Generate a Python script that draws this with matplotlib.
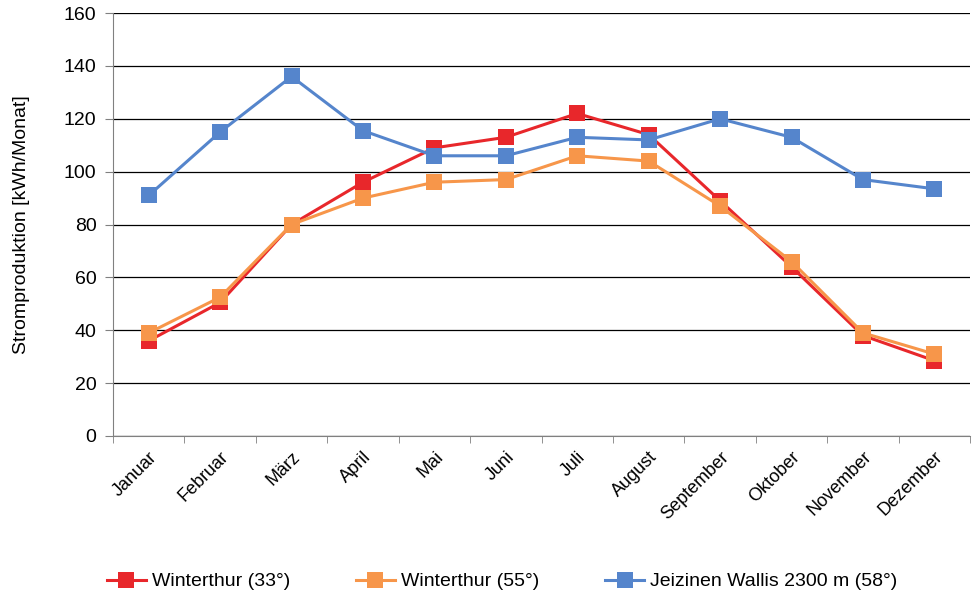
import matplotlib
matplotlib.use('Agg')
from matplotlib import pyplot as plt
import numpy as np

plt.rcParams['font.family'] = ['Liberation Sans', 'DejaVu Sans']

months = ['Januar', 'Februar', 'März', 'April', 'Mai', 'Juni', 'Juli',
          'August', 'September', 'Oktober', 'November', 'Dezember']
winterthur33 = [36, 50.5, 80, 96, 109, 113, 122, 114, 89, 64, 38, 28.5]
winterthur55 = [39, 52.5, 80, 90, 96, 97, 106, 104, 87, 66, 39, 31]
jeizinen58 = [91, 115, 136, 115.5, 106, 106, 113, 112, 120, 113, 97, 93.5]
labels = ['Winterthur (33°)', 'Winterthur (55°)', 'Jeizinen Wallis 2300 m (58°)']
colors = ['#e8272b', '#f7964a', '#5585cc']

fig = plt.figure(figsize=(9.72, 5.93), dpi=100)
ax = fig.add_axes([0.1163, 0.2648, 0.8817, 0.7132])

x = np.arange(len(months))
for series, lab, col in zip([winterthur33, winterthur55, jeizinen58], labels, colors):
    ax.plot(x, series, color=col, lw=2.2, marker='s', markersize=11,
            markeredgewidth=0, label=lab)

ax.set_ylim(0, 160)
ax.set_yticks(np.arange(0, 161, 20))
ax.set_xlim(-0.5, len(months) - 0.5)
ax.set_xticks(x)
ax.set_xticklabels(months, rotation=45, ha='right', rotation_mode='anchor')
ax.set_xticks(np.arange(-0.5, len(months), 1), minor=True)
ax.tick_params(axis='x', which='major', length=0, pad=9, labelsize=13)
ax.tick_params(axis='x', which='minor', length=5, color='#808080')
ax.tick_params(axis='y', length=6, color='#808080', labelsize=14, pad=6)
ax.grid(axis='y', color='black', lw=0.9)
ax.set_axisbelow(True)
for s in ['top', 'right']:
    ax.spines[s].set_visible(False)
for s in ['left', 'bottom']:
    ax.spines[s].set_color('#808080')
ax.set_ylabel('Stromproduktion [kWh/Monat]', fontsize=14, labelpad=24)

fig.legend(loc='lower left', bbox_to_anchor=(0.092, -0.025), ncol=3, frameon=False,
           fontsize=14, columnspacing=3.4, handlelength=2.0, handletextpad=0.3)

fig.savefig('out.png', dpi=100)
